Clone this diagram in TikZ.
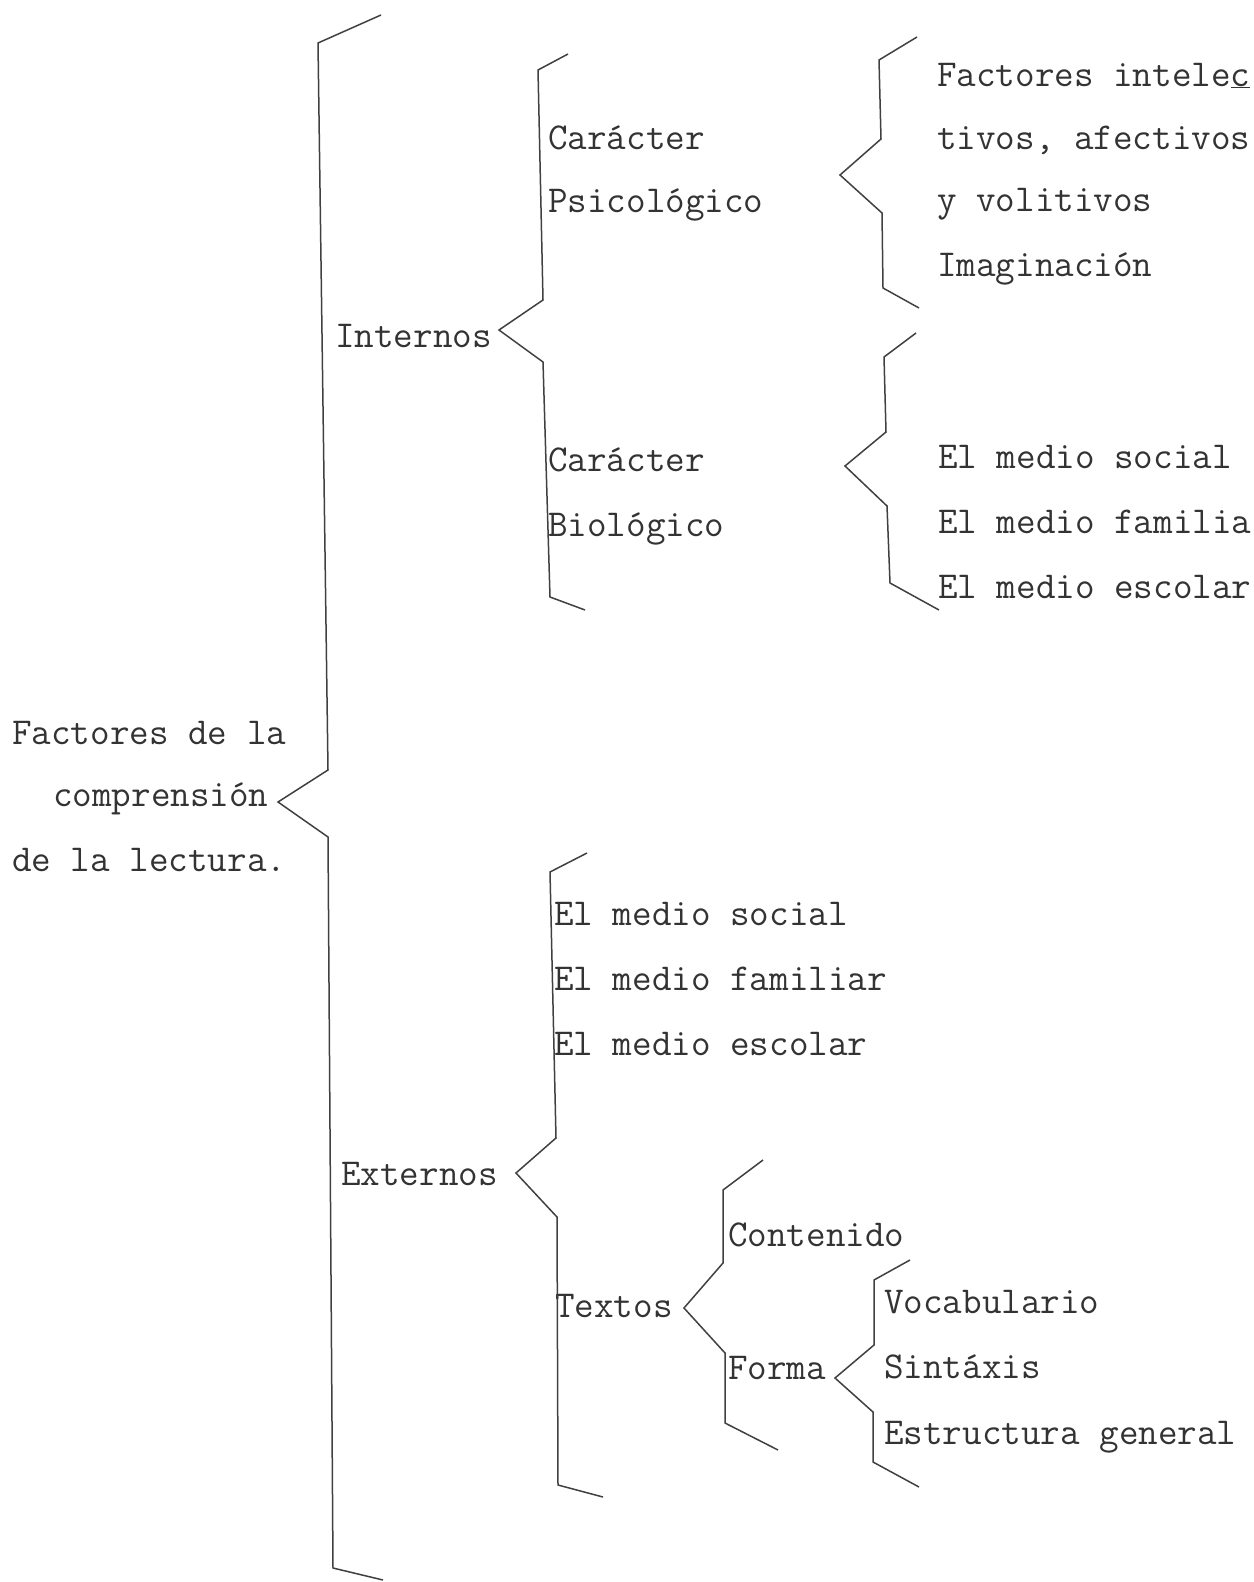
\documentclass[tikz,border=0pt]{standalone}
\begin{document}
\begin{tikzpicture}[x=1pt,y=-1pt,
  lbl/.style={font=\fontsize{38}{45}\selectfont\ttfamily, anchor=base west, inner sep=0pt, text=black!80},
  brace/.style={draw=black!75, line width=1.5pt, line join=miter}]
\useasboundingbox (0,0) rectangle (1253,1582);
% labels
\node[lbl] (root1) at (12,744) {Factores de la};
\node[lbl] (root2) at (53,806) {comprensión};
\node[lbl] (root3) at (12,871) {de la lectura.};
\node[lbl] (int) at (335,347) {Internos};
\node[lbl] (ext) at (341,1185) {Externos};
\node[lbl] (psi1) at (548,149) {Carácter};
\node[lbl] (psi2) at (548,212) {Psicológico};
\node[lbl] (bio1) at (548,471) {Carácter};
\node[lbl] (bio2) at (548,536) {Biológico};
\node[lbl] (fi1) at (937,86) {Factores intele\underline{c}};
\node[lbl] (fi2) at (937,149) {tivos, afectivos};
\node[lbl] (fi3) at (937,211) {y volitivos};
\node[lbl] (fi4) at (937,276) {Imaginación};
\node[lbl] (bm1) at (938,468) {El medio social};
\node[lbl] (bm2) at (938,533) {El medio familia};
\node[lbl] (bm3) at (938,598) {El medio escolar};
\node[lbl] (em1) at (554,925) {El medio social};
\node[lbl] (em2) at (554,990) {El medio familiar};
\node[lbl] (em3) at (554,1055) {El medio escolar};
\node[lbl] (tex) at (555,1317) {Textos};
\node[lbl] (con) at (728,1246) {Contenido};
\node[lbl] (for) at (728,1379) {Forma};
\node[lbl] (voc) at (884,1313) {Vocabulario};
\node[lbl] (sin) at (884,1378) {Sintáxis};
\node[lbl] (est) at (884,1444) {Estructura general};
% braces
\draw[brace] (381,15) -- (318,43) -- (328,770) -- (278,802) -- (328,837) -- (333,1568) -- (383,1580);
\draw[brace] (568,54) -- (538,70) -- (543,300) -- (499,330) -- (543,362) -- (550,597) -- (585,610);
\draw[brace] (917,37) -- (879,60) -- (881,139) -- (840,175) -- (882,213) -- (883,288) -- (919,308);
\draw[brace] (916,333) -- (884,357) -- (886,432) -- (845,466) -- (887,506) -- (890,583) -- (939,610);
\draw[brace] (587,853) -- (550,872) -- (556,1138) -- (516,1173) -- (557,1217) -- (558,1485) -- (603,1497);
\draw[brace] (763,1160) -- (723,1190) -- (723,1263) -- (684,1308) -- (725,1353) -- (725,1423) -- (778,1450);
\draw[brace] (910,1260) -- (874,1280) -- (874,1345) -- (835,1378) -- (873,1412) -- (873,1462) -- (919,1487);
\end{tikzpicture}
\end{document}
